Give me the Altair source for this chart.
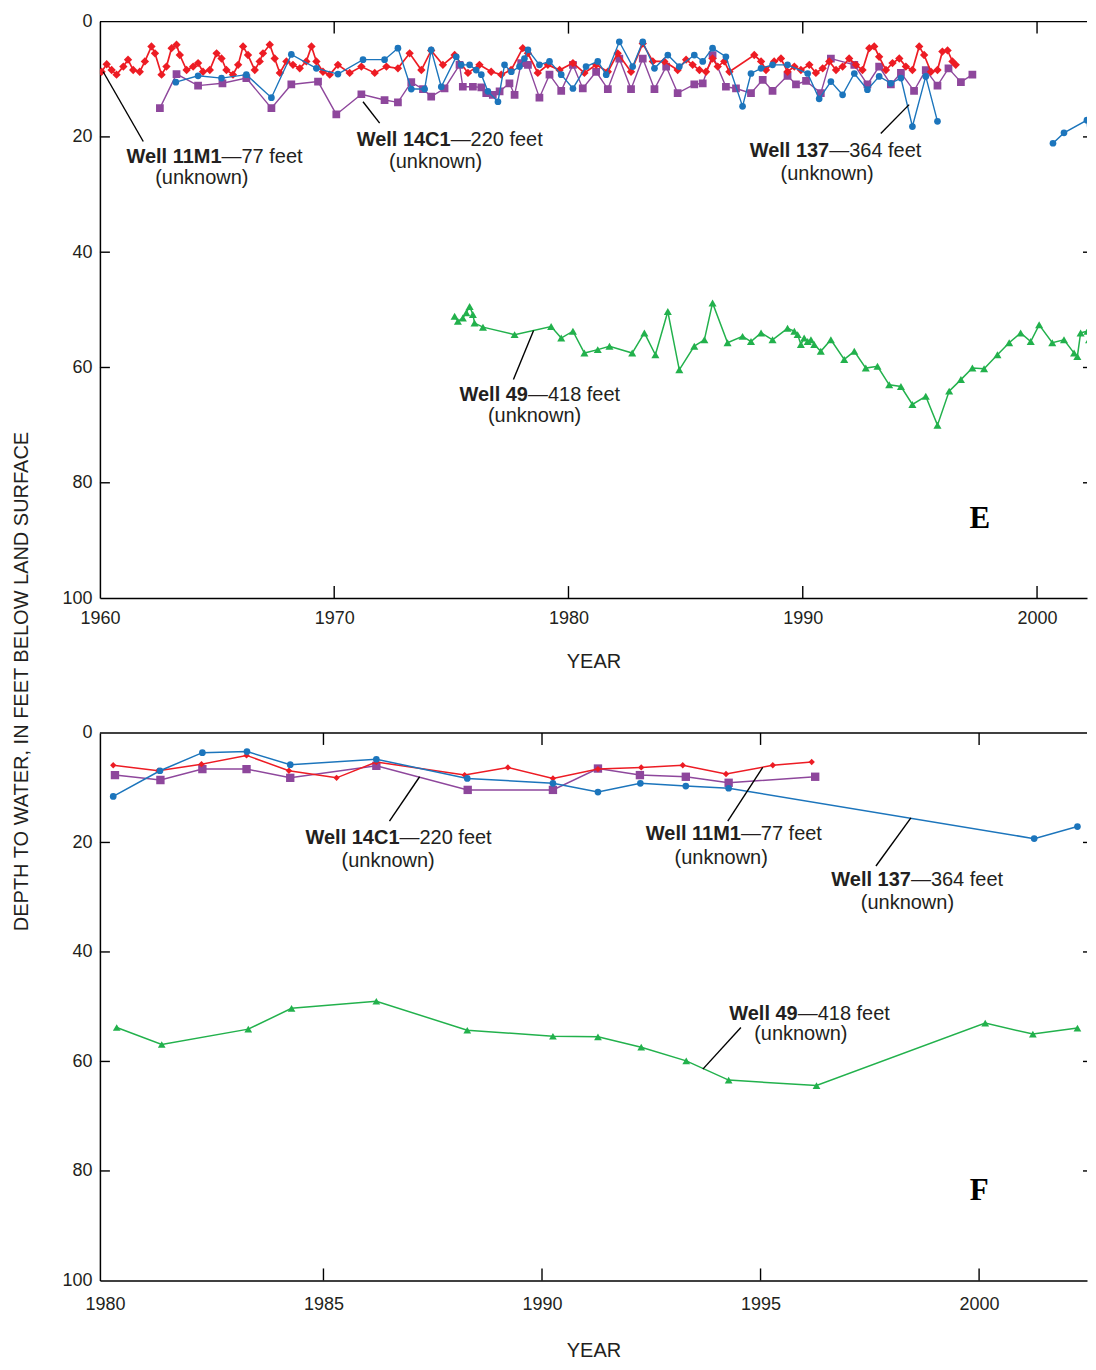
import altair as alt
import pandas as pd

# ---------------- Panel E (1960-2002) ----------------
E_11M1_year = [1960.07, 1960.29, 1960.5, 1960.71, 1961.0, 1961.2, 1961.42, 1961.7, 1961.92, 1962.2,
               1962.35, 1962.63, 1962.84, 1963.06, 1963.27, 1963.41, 1963.7, 1963.98, 1964.19, 1964.4,
               1964.69, 1964.98, 1965.19, 1965.4, 1965.68, 1965.9, 1966.11, 1966.32, 1966.61, 1966.82,
               1966.96, 1967.25, 1967.46, 1967.68, 1967.96, 1968.24, 1968.53, 1968.81, 1969.03, 1969.24,
               1969.52, 1969.81, 1970.16, 1970.66, 1971.16, 1971.73, 1972.23, 1972.72, 1973.22, 1973.72,
               1974.14, 1974.64, 1975.14, 1975.71, 1976.2, 1976.7, 1977.13, 1977.55, 1978.05, 1978.27,
               1978.69, 1979.12, 1979.62, 1980.19, 1980.68, 1981.18, 1981.68, 1982.1, 1982.67, 1983.17,
               1983.6, 1984.09, 1984.66, 1985.02, 1985.3, 1985.59, 1985.87, 1986.15, 1986.37, 1986.65,
               1986.87, 1987.93, 1988.22, 1988.43, 1988.78, 1989.07, 1989.35, 1989.64, 1989.92, 1990.28,
               1990.56, 1990.85, 1991.13, 1991.42, 1991.7, 1991.98, 1992.27, 1992.55, 1992.84, 1993.05,
               1993.26, 1993.55, 1993.83, 1994.12, 1994.4, 1994.68, 1994.97, 1995.18, 1995.47, 1995.75,
               1995.96, 1996.18, 1996.39, 1996.53]
E_11M1_depth = [8.7, 7.4, 8.4, 9.2, 7.8, 6.6, 8.4, 8.7, 6.9, 4.3,
                5.5, 9.2, 7.8, 4.6, 4.0, 5.8, 8.4, 7.8, 7.2, 8.7,
                8.4, 5.5, 6.4, 8.4, 9.2, 7.5, 4.3, 5.8, 8.4, 6.9,
                5.5, 4.0, 6.4, 8.9, 6.9, 7.5, 8.1, 6.9, 4.3, 6.9,
                8.7, 9.2, 7.5, 8.9, 7.8, 8.9, 7.8, 8.1, 5.5, 8.4,
                5.0, 7.5, 5.8, 8.9, 7.5, 8.7, 9.2, 8.4, 4.6, 5.5,
                8.9, 7.5, 8.4, 7.2, 8.9, 7.5, 8.7, 5.5, 8.7, 3.8,
                6.9, 6.9, 8.4, 6.6, 7.5, 8.4, 8.7, 6.4, 7.8, 6.9,
                8.7, 5.8, 6.9, 8.4, 6.9, 6.4, 8.7, 7.8, 8.4, 7.5,
                8.9, 8.1, 6.9, 8.4, 7.8, 6.4, 7.5, 8.4, 4.6, 4.3,
                6.1, 8.4, 7.2, 6.4, 7.8, 8.4, 4.3, 5.8, 8.7, 8.4,
                5.2, 5.0, 6.9, 7.5]

E_137_year = [1963.24, 1964.19, 1965.19, 1966.25, 1967.32, 1968.17, 1969.24, 1970.16, 1971.23, 1972.15,
              1972.72, 1973.29, 1973.86, 1974.14, 1974.57, 1975.21, 1975.42, 1975.78, 1976.06, 1976.28,
              1976.56, 1976.99, 1977.27, 1977.56, 1977.91, 1978.12, 1978.27, 1978.76, 1979.19, 1979.69,
              1980.19, 1980.75, 1981.25, 1981.61, 1982.17, 1982.74, 1983.17, 1983.67, 1984.24, 1984.73,
              1985.37, 1985.73, 1986.15, 1986.72, 1987.43, 1987.79, 1988.22, 1988.71, 1989.35, 1990.21,
              1990.7, 1991.2, 1991.7, 1992.2, 1992.76, 1993.26, 1993.76, 1994.19, 1994.68, 1995.25,
              1995.75]
E_137_depth = [10.5, 9.4, 9.8, 9.2, 13.2, 5.7, 8.1, 9.1, 6.6, 6.6,
               4.6, 11.7, 11.7, 4.9, 11.3, 6.1, 7.5, 7.5, 8.4, 9.2,
               12.1, 13.9, 7.5, 8.7, 7.8, 6.4, 4.9, 7.5, 6.9, 9.2,
               11.6, 7.8, 6.9, 9.2, 3.5, 7.8, 3.5, 8.1, 5.8, 7.8,
               5.8, 6.9, 4.6, 6.1, 14.7, 9.0, 8.1, 7.5, 7.5, 9.0,
               13.4, 10.4, 12.7, 9.0, 11.8, 9.5, 10.7, 9.8, 18.2, 9.5,
               17.3]
E_137_late_year = [2000.68, 2001.15, 2002.13, 2002.36]
E_137_late_depth = [21.1, 19.3, 17.1, 26.6]

E_14C1_year = [1962.56, 1963.27, 1964.19, 1965.23, 1966.25, 1967.32, 1968.17, 1969.31, 1970.09, 1971.16,
               1972.15, 1972.72, 1973.29, 1973.79, 1974.14, 1974.71, 1975.35, 1975.49, 1975.92, 1976.28,
               1976.49, 1976.77, 1977.06, 1977.48, 1977.7, 1977.98, 1978.27, 1978.76, 1979.19, 1979.69,
               1980.19, 1980.61, 1981.18, 1981.68, 1982.17, 1982.67, 1983.17, 1983.67, 1984.17, 1984.66,
               1985.37, 1985.73, 1986.15, 1986.72, 1987.15, 1987.79, 1988.29, 1988.71, 1989.35, 1989.71,
               1990.14, 1990.77, 1991.2, 1992.2, 1992.76, 1993.26, 1993.76, 1994.19, 1994.75, 1995.25,
               1995.75, 1996.22, 1996.75, 1997.24]
E_14C1_depth = [15.0, 9.1, 11.1, 10.7, 9.8, 15.0, 10.9, 10.4, 16.1, 12.6,
                13.6, 14.0, 10.5, 11.7, 13.0, 11.6, 7.5, 11.3, 11.3, 11.4,
                12.4, 12.7, 12.1, 10.7, 12.7, 7.2, 7.5, 13.2, 9.2, 12.0,
                7.5, 11.6, 8.7, 11.7, 6.4, 11.7, 6.4, 11.7, 7.8, 12.4,
                10.9, 10.7, 5.8, 11.3, 11.6, 12.4, 10.1, 12.0, 9.4, 10.9,
                10.3, 12.4, 6.4, 7.5, 10.9, 7.8, 10.9, 8.9, 12.0, 8.4,
                11.1, 8.1, 10.5, 9.2]

E_49_year = [1975.14, 1975.28, 1975.49, 1975.64, 1975.78, 1975.92, 1975.99, 1976.35, 1977.7, 1979.26,
             1979.69, 1980.19, 1980.68, 1981.25, 1981.75, 1982.72, 1983.24, 1983.71, 1984.24, 1984.73,
             1985.37, 1985.8, 1986.15, 1986.79, 1987.43, 1987.79, 1988.22, 1988.71, 1989.35, 1989.64,
             1989.78, 1989.92, 1990.06, 1990.21, 1990.35, 1990.49, 1990.77, 1991.2, 1991.77, 1992.2,
             1992.69, 1993.19, 1993.69, 1994.19, 1994.68, 1995.25, 1995.75, 1996.25, 1996.75, 1997.24,
             1997.74, 1998.31, 1998.81, 1999.3, 1999.73, 2000.09, 2000.65, 2001.15, 2001.58, 2001.72,
             2001.86, 2002.15, 2002.22, 2002.43]
E_49_depth = [51.1, 52.0, 51.4, 50.5, 49.4, 50.8, 52.3, 53.0, 54.3, 52.9,
              54.9, 53.7, 57.5, 56.9, 56.3, 57.5, 54.0, 57.8, 50.3, 60.4,
              56.3, 55.2, 48.8, 55.7, 54.6, 55.5, 54.0, 55.2, 53.2, 53.7,
              54.3, 56.0, 54.9, 55.5, 55.2, 56.0, 57.2, 55.2, 58.6, 57.2,
              60.1, 59.8, 63.0, 63.3, 66.4, 65.0, 70.0, 64.1, 62.1, 60.1,
              60.2, 57.8, 55.7, 54.0, 55.5, 52.6, 55.7, 55.2, 57.5, 58.1,
              54.0, 53.7, 55.2, 55.5]

# ---------------- Panel F (1980-2002) ----------------
F_11M1_year = [1980.19, 1981.22, 1982.21, 1983.24, 1984.21, 1985.3, 1986.21, 1988.23, 1989.22, 1990.25,
               1991.28, 1992.27, 1993.22, 1994.21, 1995.28, 1996.17]
F_11M1_depth = [5.9, 6.9, 5.7, 4.1, 6.9, 8.2, 5.3, 7.7, 6.3, 8.3,
                6.6, 6.3, 5.9, 7.5, 5.9, 5.3]
F_137_year = [1980.19, 1981.26, 1982.23, 1983.25, 1984.24, 1986.21, 1988.29, 1990.25, 1991.28, 1992.25,
              1993.29, 1994.27, 2001.26, 2002.25]
F_137_depth = [11.6, 6.9, 3.6, 3.4, 5.8, 4.8, 8.3, 9.2, 10.8, 9.2,
               9.7, 10.1, 19.3, 17.1]
F_14C1_year = [1980.23, 1981.27, 1982.23, 1983.24, 1984.24, 1986.21, 1988.3, 1990.25, 1991.28, 1992.24,
               1993.29, 1994.27, 1996.25]
F_14C1_depth = [7.7, 8.6, 6.6, 6.6, 8.2, 6.0, 10.4, 10.4, 6.5, 7.7,
                8.0, 9.1, 8.0]
F_49_year = [1980.27, 1981.3, 1983.28, 1984.27, 1986.21, 1988.29, 1990.25, 1991.28, 1992.27, 1993.3,
             1994.27, 1996.28, 2000.14, 2001.23, 2002.25]
F_49_depth = [53.8, 56.9, 54.1, 50.3, 49.0, 54.3, 55.4, 55.5, 57.4, 59.9,
              63.4, 64.4, 53.0, 55.0, 53.9]

# ---------------- Labels ----------------
LABEL_BOLD = ["Well 11M1", "Well 14C1", "Well 137", "Well 49"]
LABEL_REST = ["\u201477 feet", "\u2014220 feet", "\u2014364 feet", "\u2014418 feet"]
LABEL_SUB = ["(unknown)", "(unknown)", "(unknown)", "(unknown)"]

E_lab_year = [1965.19, 1974.97, 1991.13, 1978.27]
E_lab_depth = [23.4, 20.6, 22.5, 64.8]
E_sub_year = [1964.35, 1974.33, 1991.04, 1978.55]
E_sub_depth = [27.2, 24.3, 26.5, 68.5]
E_lead_year = [1961.85, 1971.94, 1993.33, 1977.65]
E_lead_depth = [20.8, 17.6, 19.4, 62.1]
E_lead_year2 = [1960.14, 1971.23, 1994.54, 1978.51]
E_lead_depth2 = [8.7, 13.9, 14.4, 53.6]

F_lab_year = [1994.55, 1986.74, 1998.44, 1995.85]
F_lab_depth = [18.5, 19.1, 26.8, 51.3]
F_sub_year = [1994.1, 1986.48, 1998.36, 1995.92]
F_sub_depth = [22.8, 23.4, 31.0, 55.0]
F_lead_year = [1994.25, 1986.51, 1997.64, 1993.68]
F_lead_depth = [16.1, 16.1, 24.3, 61.4]
F_lead_year2 = [1995.05, 1987.2, 1998.44, 1994.55]
F_lead_depth2 = [6.3, 8.0, 15.5, 53.8]

Y_TICKS = [0, 20, 40, 60, 80, 100]
E_X_TICKS = [1960, 1970, 1980, 1990, 2000]
F_X_TICKS = [1980, 1985, 1990, 1995, 2000]

# ---------------- Styling ----------------
FONT = "Liberation Sans"
TXT = "#231F20"
COLORS = {"11M1": "#ED1C24", "137": "#1C75BC", "14C1": "#8E479C", "49": "#22B14C"}
SHAPES = {"11M1": "diamond", "137": "circle", "14C1": "square", "49": "triangle-up"}
ORDER = ["14C1", "11M1", "137", "49"]


def make_df(years, depths, seg=0):
    assert len(years) == len(depths)
    return pd.DataFrame({"year": years, "depth": depths, "seg": seg})


def panel(series, x_domain, x_ticks, W, H, lab, letter, letter_pos, sizes, widths,
          y_title, xlab_pad, xtitle_y):
    xs = alt.Scale(domain=x_domain, nice=False, zero=False)
    ys = alt.Scale(domain=[0, 100], reverse=True, nice=False, zero=False)
    xa = alt.Axis(values=x_ticks, format="d", ticks=False, tickSize=0, labelFlush=False,
                  labelPadding=xlab_pad, labelFont=FONT, labelFontSize=18, labelColor=TXT,
                  domainColor="#000000", domainWidth=1.5, grid=False,
                  title="YEAR", titleFont=FONT, titleFontSize=20, titleFontWeight="normal",
                  titleColor=TXT, titleY=xtitle_y, titleBaseline="middle")
    ya = alt.Axis(values=Y_TICKS, ticks=False, tickSize=0, labelPadding=8, labelFont=FONT,
                  labelFontSize=18, labelColor=TXT, domainColor="#000000", domainWidth=1.5,
                  grid=False, title=y_title, titleFont=FONT, titleFontSize=20,
                  titleFontWeight="normal", titleColor=TXT, titleX=-78, titleY=660,
                  titleAngle=270, titleBaseline="middle")

    def X(f="year"):
        return alt.X(f, type="quantitative", scale=xs, axis=xa)

    def Y(f="depth"):
        return alt.Y(f, type="quantitative", scale=ys, axis=ya)

    layers = []
    for well in ORDER:
        for df in series[well]:
            layers.append(alt.Chart(df).mark_line(color=COLORS[well], strokeWidth=widths[well],
                                                  clip=True)
                          .encode(x=X(), y=Y(), detail="seg:N"))
        for df in series[well]:
            layers.append(alt.Chart(df).mark_point(filled=True, opacity=1, shape=SHAPES[well],
                                                   size=sizes[well], color=COLORS[well], clip=True)
                          .encode(x=X(), y=Y()))

    # frame: top line and inward ticks
    inner = [t for t in x_ticks if t > x_ticks[0]]
    rule = dict(color="#000000", strokeWidth=1.4)
    layers.append(alt.Chart(pd.DataFrame({"k": [0]})).mark_rule(**rule)
                  .encode(x=alt.value(0), x2=alt.value(W), y=alt.value(0)))
    layers.append(alt.Chart(pd.DataFrame({"year": inner})).mark_rule(**rule)
                  .encode(x=X(), y=alt.value(H), y2=alt.value(H - 12)))
    layers.append(alt.Chart(pd.DataFrame({"year": inner})).mark_rule(**rule)
                  .encode(x=X(), y=alt.value(0), y2=alt.value(12)))
    mid = pd.DataFrame({"depth": Y_TICKS[1:-1]})
    layers.append(alt.Chart(mid).mark_rule(**rule)
                  .encode(x=alt.value(0), x2=alt.value(10), y=Y()))
    layers.append(alt.Chart(mid).mark_rule(**rule)
                  .encode(x=alt.value(W - 4), x2=alt.value(W), y=Y()))

    # leader lines
    lead = pd.DataFrame({"year": lab["lead_year"], "depth": lab["lead_depth"],
                         "year2": lab["lead_year2"], "depth2": lab["lead_depth2"]})
    layers.append(alt.Chart(lead).mark_rule(color="#000000", strokeWidth=1.4)
                  .encode(x=X(), y=Y(), x2="year2:Q", y2="depth2:Q"))

    # labels
    ann = pd.DataFrame({"year": lab["year"], "depth": lab["depth"],
                        "bold": LABEL_BOLD, "rest": LABEL_REST})
    layers.append(alt.Chart(ann).mark_text(align="right", baseline="middle", font=FONT,
                                           fontSize=20, fontWeight="bold", color=TXT)
                  .encode(x=X(), y=Y(), text="bold:N"))
    layers.append(alt.Chart(ann).mark_text(align="left", baseline="middle", font=FONT,
                                           fontSize=20, color=TXT)
                  .encode(x=X(), y=Y(), text="rest:N"))
    sub = pd.DataFrame({"year": lab["sub_year"], "depth": lab["sub_depth"], "t": LABEL_SUB})
    layers.append(alt.Chart(sub).mark_text(align="center", baseline="middle", font=FONT,
                                           fontSize=20, color=TXT)
                  .encode(x=X(), y=Y(), text="t:N"))

    let = pd.DataFrame({"year": [letter_pos[0]], "depth": [letter_pos[1]], "t": [letter]})
    layers.append(alt.Chart(let).mark_text(align="center", baseline="middle",
                                           font="Liberation Serif", fontSize=31,
                                           fontWeight="bold", color="#000000")
                  .encode(x=X(), y=Y(), text="t:N"))

    return alt.layer(*layers).properties(width=W, height=H)


W = 988
E_series = {
    "11M1": [make_df(E_11M1_year, E_11M1_depth)],
    "137": [make_df(E_137_year, E_137_depth, 0), make_df(E_137_late_year, E_137_late_depth, 1)],
    "14C1": [make_df(E_14C1_year, E_14C1_depth)],
    "49": [make_df(E_49_year, E_49_depth)],
}
F_series = {
    "11M1": [make_df(F_11M1_year, F_11M1_depth)],
    "137": [make_df(F_137_year, F_137_depth)],
    "14C1": [make_df(F_14C1_year, F_14C1_depth)],
    "49": [make_df(F_49_year, F_49_depth)],
}
E_lab = dict(year=E_lab_year, depth=E_lab_depth, sub_year=E_sub_year, sub_depth=E_sub_depth,
             lead_year=E_lead_year, lead_depth=E_lead_depth,
             lead_year2=E_lead_year2, lead_depth2=E_lead_depth2)
F_lab = dict(year=F_lab_year, depth=F_lab_depth, sub_year=F_sub_year, sub_depth=F_sub_depth,
             lead_year=F_lead_year, lead_depth=F_lead_depth,
             lead_year2=F_lead_year2, lead_depth2=F_lead_depth2)

E_px_per_year = 23.45
F_px_per_year = 43.75
E_domain = [1960, 1960 + W / E_px_per_year]
F_start = 1980 - 5 / F_px_per_year
F_domain = [F_start, F_start + W / F_px_per_year]

panel_E = panel(E_series, E_domain, E_X_TICKS, W, 577, E_lab, "E", (1997.56, 86.2),
                {"11M1": 70, "137": 45, "14C1": 60, "49": 65},
                {"11M1": 1.7, "137": 1.4, "14C1": 1.4, "49": 1.5},
                "DEPTH TO WATER, IN FEET BELOW LAND SURFACE", 11, 63)
panel_F = panel(F_series, F_domain, F_X_TICKS, W, 548, F_lab, "F", (2000.0, 83.6),
                {"11M1": 40, "137": 45, "14C1": 70, "49": 60},
                {"11M1": 1.5, "137": 1.5, "14C1": 1.5, "49": 1.5},
                "", 15, 70)

chart = alt.vconcat(panel_E, panel_F, spacing=135, bounds="flush").properties(
    padding={"left": 4, "top": 4, "right": 0, "bottom": 0}
).configure_view(strokeWidth=0)

chart.save("out.html", embed_options={"renderer": "svg", "actions": False})
